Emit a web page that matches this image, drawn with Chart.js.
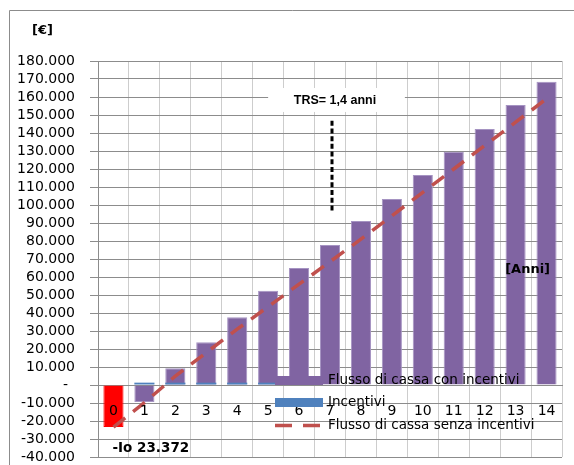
<!DOCTYPE html>
<html>
<head>
<meta charset="utf-8">
<script src="https://cdn.jsdelivr.net/npm/chart.js@4"></script>
<style>
  html, body { margin: 0; padding: 0; background: #fff; overflow: hidden; }
</style>
</head>
<body>
<canvas id="myChart" width="574" height="465"></canvas>
<script>
// dati
var anni = ['0', '1', '2', '3', '4', '5', '6', '7', '8', '9', '10', '11', '12', '13', '14'];
var flussoConIncentivi = [-23372, -9400, 9300, 23700, 37600, 52400, 65000, 77800, 91100, 103300, 116700, 129600, 142200, 155600, 168500];
var incentivi = [null, 1300, 1300, 1300, 1300, 1300, null, null, null, null, null, null, null, null, null];
var flussoSenzaIncentivi = [-23372, -9800, 4900, 18000, 31000, 43500, 56000, 68500, 81000, 94000, 107000, 120000, 133000, 146000, 159000];
var yMin = -40000;
var yMax = 180000;
var yPasso = 10000;

// colori
var viola = '#8064a2';
var violaBordo = '#a593c2';
var blu = '#4f81bd';
var rosso = '#c0504d';
var grigioScuro = '#8c8c8c';
var grigioChiaro = '#cdcdcd';

var coloriBarre = flussoConIncentivi.map(function (v, i) {
  return i === 0 ? '#ff0000' : viola;
});
var bordiBarre = flussoConIncentivi.map(function (v, i) {
  return i === 0 ? '#ff0000' : violaBordo;
});

// 10000 -> "10.000", 0 -> "-"
function formatoEuro(v) {
  if (v === 0) return '-\u2002';
  var s = String(Math.abs(v)).replace(/\B(?=(\d{3})+(?!\d))/g, '.');
  return (v < 0 ? '-' : '') + s;
}

// testi, linea TRS, legenda sovrapposta e bordo
var annotazioni = {
  id: 'annotazioni',
  beforeDraw: function (chart) {
    var ctx = chart.ctx;
    ctx.save();
    ctx.strokeStyle = grigioScuro;
    ctx.lineWidth = 1;
    ctx.beginPath();
    ctx.moveTo(9.5, 470);
    ctx.lineTo(9.5, 10.5);
    ctx.lineTo(580, 10.5);
    ctx.stroke();
    ctx.restore();
  },
  afterDraw: function (chart) {
    var ctx = chart.ctx;
    var xs = chart.scales.x;
    var ys = chart.scales.y;
    ctx.save();

    // [€]
    ctx.fillStyle = '#000';
    ctx.font = 'bold 13px "DejaVu Sans"';
    ctx.textAlign = 'center';
    ctx.textBaseline = 'middle';
    ctx.fillText('[\u20ac]', 42.5, 31);

    // riquadro TRS
    var bx1 = xs.getPixelForValue(5);
    var bx2 = xs.getPixelForValue(9) + 13;
    var by1 = ys.getPixelForValue(165000);
    var by2 = ys.getPixelForValue(151700);
    ctx.fillStyle = '#fff';
    ctx.fillRect(bx1, by1, bx2 - bx1, by2 - by1);
    ctx.fillStyle = '#000';
    ctx.font = 'bold 12.5px "Liberation Sans"';
    ctx.fillText('TRS= 1,4 anni', xs.getPixelForValue(7) + 5, ys.getPixelForValue(158000));

    // linea tratteggiata nera
    var lx = xs.getPixelForValue(7) + 2;
    ctx.strokeStyle = '#000';
    ctx.lineWidth = 3;
    ctx.setLineDash([5, 2.7]);
    ctx.beginPath();
    ctx.moveTo(lx, ys.getPixelForValue(146800));
    ctx.lineTo(lx, ys.getPixelForValue(95500));
    ctx.stroke();
    ctx.setLineDash([]);

    // [Anni]
    ctx.font = 'bold 13px "DejaVu Sans"';
    ctx.fillText('[Anni]', xs.getPixelForValue(13) + 12, ys.getPixelForValue(63900));

    // investimento iniziale
    ctx.font = 'bold 13.5px "DejaVu Sans"';
    ctx.textAlign = 'left';
    ctx.fillText('-Io 23.372', xs.getPixelForValue(0) - 1, ys.getPixelForValue(-35000));

    // legenda
    ctx.font = '13.5px "DejaVu Sans"';
    ctx.fillStyle = viola;
    ctx.fillRect(275, 376, 48, 9);
    ctx.fillStyle = blu;
    ctx.fillRect(275, 398, 48, 9);
    ctx.strokeStyle = rosso;
    ctx.lineWidth = 3.5;
    ctx.setLineDash([17, 11]);
    ctx.beginPath();
    ctx.moveTo(275, 425.5);
    ctx.lineTo(321, 425.5);
    ctx.stroke();
    ctx.setLineDash([]);
    ctx.fillStyle = '#000';
    ctx.fillText('Flusso di cassa con incentivi', 328, 380.5);
    ctx.fillText('Incentivi', 328, 402.5);
    ctx.fillText('Flusso di cassa senza incentivi', 328, 425.5);

    ctx.restore();
  }
};

var graph = document.getElementById('myChart');

var myChart = new Chart(graph, {
  type: 'bar',
  data: {
    labels: anni,
    datasets: [{
      label: 'Flusso di cassa con incentivi',
      data: flussoConIncentivi,
      backgroundColor: coloriBarre,
      borderColor: bordiBarre,
      borderWidth: 1,
      order: 2
    }, {
      label: 'Incentivi',
      data: incentivi,
      backgroundColor: blu,
      order: 1
    }, {
      type: 'line',
      label: 'Flusso di cassa senza incentivi',
      data: flussoSenzaIncentivi,
      borderColor: rosso,
      borderWidth: 3.5,
      borderDash: [15, 10],
      pointRadius: 0,
      fill: false,
      tension: 0,
      order: 0
    }]
  }, // fine data
  options: {
    responsive: false,
    animation: false,
    devicePixelRatio: 1,
    layout: {
      padding: { left: 0, top: 61, right: 12, bottom: 8 }
    },
    datasets: {
      bar: {
        grouped: false,
        barPercentage: 0.65,
        categoryPercentage: 1
      }
    },
    plugins: {
      legend: { display: false },
      tooltip: { enabled: false },
      title: { display: false }
    },
    scales: {
      x: {
        position: { y: 0 },
        grid: {
          display: true,
          drawOnChartArea: true,
          color: grigioChiaro,
          lineWidth: 1,
          drawTicks: false,
          offset: true
        },
        border: { display: true, color: grigioScuro, width: 1 },
        ticks: {
          z: 1,
          padding: 18,
          color: '#000',
          font: { family: 'DejaVu Sans', size: 14 },
          maxRotation: 0,
          autoSkip: false
        }
      },
      y: {
        min: yMin,
        max: yMax,
        afterFit: function (scale) {
          // larghezza fissa e niente margine extra sopra/sotto
          scale.width = 98;
          scale.paddingTop = 0;
          scale.paddingBottom = 0;
        },
        grid: {
          display: true,
          drawOnChartArea: true,
          color: grigioScuro,
          tickColor: grigioScuro,
          lineWidth: 1,
          tickLength: 8
        },
        border: { display: true, color: grigioScuro, width: 1 },
        ticks: {
          stepSize: yPasso,
          autoSkip: false,
          padding: 15,
          color: '#000',
          font: { family: 'DejaVu Sans', size: 14 },
          callback: function (v) { return formatoEuro(v); }
        }
      }
    }
  }, // fine options
  plugins: [annotazioni]
}); // fine grafico
</script>
</body>
</html>
